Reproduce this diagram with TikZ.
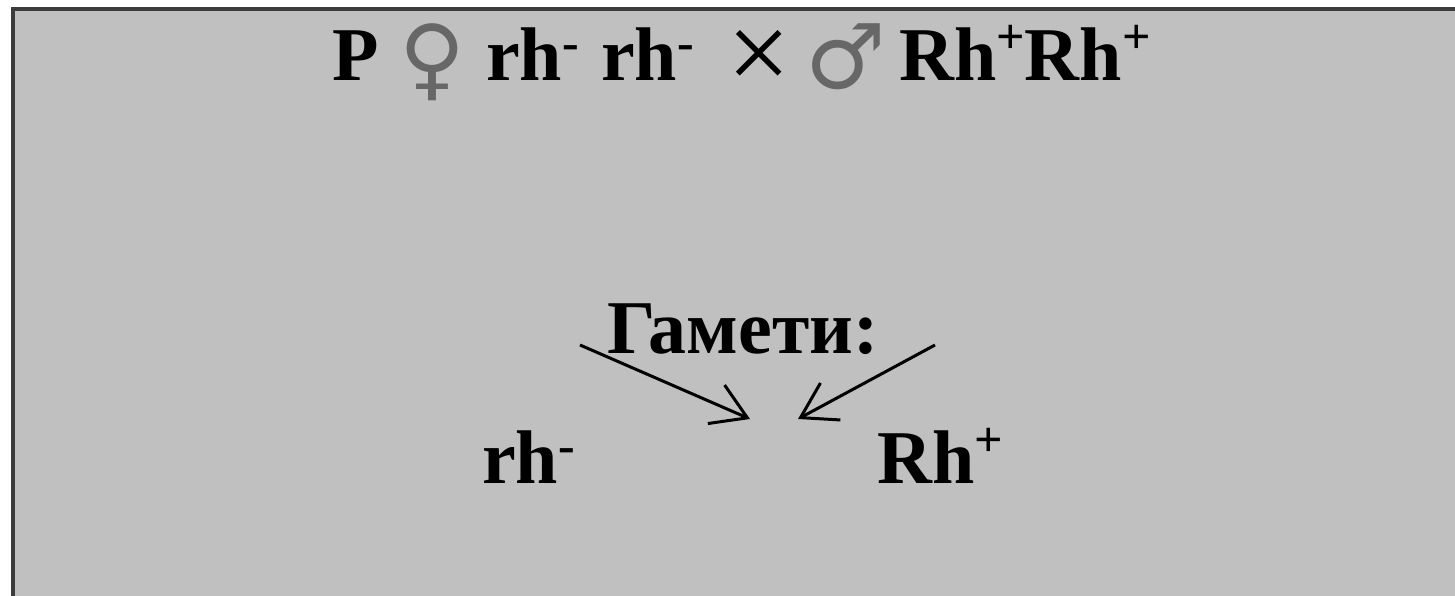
\documentclass[tikz,border=0pt]{standalone}
\usepackage{fontspec}
\setmainfont{Liberation Serif}
\newfontfamily\gsymf{DejaVu Sans}
\usetikzlibrary{arrows.meta}
\definecolor{bgc}{HTML}{C0C0C0}
\definecolor{framec}{HTML}{3C3C3C}
\definecolor{symgray}{HTML}{676767}
\newcommand\supminus{\raisebox{21pt}{\fontsize{50}{50}\selectfont -}}
\newcommand\supplus{\raisebox{27pt}{\fontsize{50}{50}\selectfont +}}
\begin{document}
\begin{tikzpicture}[x=1pt,y=-1pt,
  txt/.style={anchor=base west,inner sep=0pt,font=\fontsize{76}{76}\selectfont\bfseries},
  sym/.style={inner sep=0pt,text=symgray,font=\gsymf\fontsize{90}{90}\selectfont},
  arr/.style={line width=3pt,-{Straight Barb[length=34pt,width=42pt]}}]
\useasboundingbox (0,0) rectangle (1455,596);
\fill[white] (0,0) rectangle (1455,596);
\fill[framec] (11,7) rectangle (1455,596);
\fill[bgc] (15,11) rectangle (1455,596);
% title
\node[txt] (p) at (332,81) {P};
\node[sym] (fem) at (432,62) {♀};
\node[txt] (g1) at (486,81) {rh\supminus};
\node[txt] (g2) at (601,81) {rh\supminus};
\node[inner sep=0pt,font=\fontsize{112}{112}\selectfont] (x) at (759,60) {×};
\node[sym] (mal) at (846,57) {♂};
\node[txt] (g3) at (899,81) {Rh\supplus Rh\supplus};
% gametes
\node[txt] (gam) at (607,353) {Гамети:};
\node[txt] (a1) at (482,483) {rh\supminus};
\node[txt] (a2) at (877,483) {Rh\supplus};
\coordinate (s1) at (580,345);
\coordinate (t1) at (750,419);
\coordinate (s2) at (935,345);
\coordinate (t2) at (798,419);
\draw[arr] (s1) -- (t1);
\draw[arr] (s2) -- (t2);
\end{tikzpicture}
\end{document}
